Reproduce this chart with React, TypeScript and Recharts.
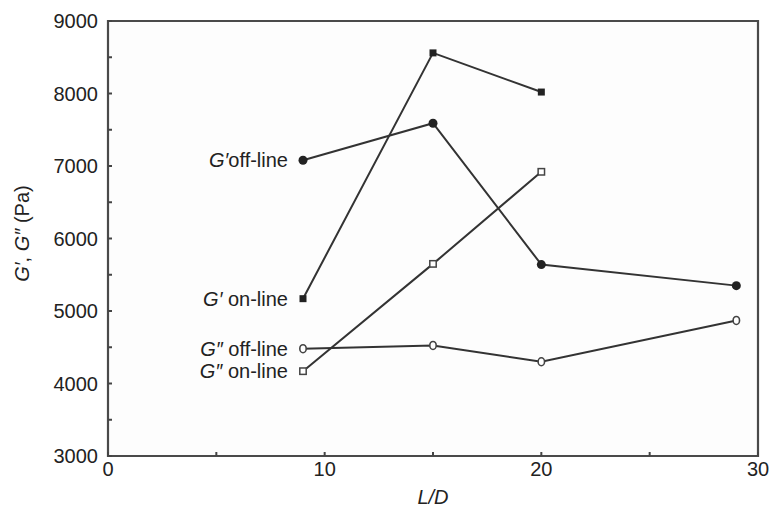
import React from 'react';
import { LineChart, Line, XAxis, YAxis, ReferenceArea } from 'recharts';

const ldValues = [9, 15, 20, 29];
const gPrimeOffline = [7080, 7590, 5640, 5350];
const gPrimeOnline = [5170, 8560, 8020, null];
const gDoubleOffline = [4480, 4525, 4300, 4870];
const gDoubleOnline = [4170, 5650, 6920, null];

const xTicks = [0, 5, 10, 15, 20, 25, 30];
const yTicks = [3000, 3500, 4000, 4500, 5000, 5500, 6000, 6500, 7000, 7500, 8000, 8500, 9000];

const rows = ldValues.map((x, i) => ({
  ld: x,
  gpOff: gPrimeOffline[i],
  gpOn: gPrimeOnline[i],
  gdOff: gDoubleOffline[i],
  gdOn: gDoubleOnline[i],
}));

const FONT = '"Liberation Sans", Arial, Helvetica, sans-serif';
const FS = 20;
const INK = '#222';
const LINE = '#333';

type DotKind = 'fillCircle' | 'fillSquare' | 'openCircle' | 'openSquare';

const makeDot = (kind: DotKind) => (props: any) => {
  const { cx, cy, index } = props;
  if (cx == null || cy == null || Number.isNaN(cy)) return <g key={`e-${kind}-${index}`} />;
  if (kind === 'fillCircle')
    return <circle key={`d-${kind}-${index}`} cx={cx} cy={cy} r={4.5} fill={INK} stroke="none" />;
  if (kind === 'fillSquare')
    return <rect key={`d-${kind}-${index}`} x={cx - 3.5} y={cy - 3.5} width={7} height={7} fill={INK} />;
  if (kind === 'openCircle')
    return <ellipse key={`d-${kind}-${index}`} cx={cx} cy={cy} rx={3.2} ry={4} fill="#fff" stroke="#444" strokeWidth={1.6} />;
  return <rect key={`d-${kind}-${index}`} x={cx - 3.2} y={cy - 3.2} width={6.4} height={6.4} fill="#fff" stroke="#444" strokeWidth={1.5} />;
};

const makeSeriesLabel = (sym: string, rest: string) => (props: any) => {
  const { x, y, index } = props;
  if (index !== 0 || x == null || y == null) return <g key={`l-${sym}-${index}`} />;
  return (
    <text
      key={`l-${sym}-${rest}`}
      x={x - 15}
      y={y + 7}
      textAnchor="end"
      fontFamily={FONT}
      fontSize={FS}
      fill={INK}
    >
      <tspan fontStyle="italic">{sym}</tspan>
      <tspan>{rest}</tspan>
    </text>
  );
};

const YLabel = (props: any) => {
  const vb = props.viewBox || { x: 0, y: 0, width: 0, height: 0 };
  const cx = vb.x + 22;
  const cy = vb.y + vb.height / 2 - 5;
  return (
    <text
      x={cx}
      y={cy}
      transform={`rotate(-90, ${cx}, ${cy})`}
      textAnchor="middle"
      dominantBaseline="central"
      fontFamily={FONT}
      fontSize={FS}
      fill={INK}
    >
      <tspan fontStyle="italic">G′</tspan>
      <tspan>, </tspan>
      <tspan fontStyle="italic">G″</tspan>
      <tspan> (Pa)</tspan>
    </text>
  );
};

const XLabel = (props: any) => {
  const vb = props.viewBox || { x: 0, y: 0, width: 0, height: 0 };
  const cx = vb.x + vb.width / 2;
  return (
    <text x={cx} y={vb.y + 48} textAnchor="middle" fontFamily={FONT} fontSize={FS} fontStyle="italic" fill={INK}>
      L/D
    </text>
  );
};

export default function App() {
  return (
    <div style={{ position: 'absolute', left: 0, top: 0, background: '#fff' }}>
      <LineChart width={772} height={514} data={rows} margin={{ top: 21, right: 14, left: 0, bottom: 0 }}>
        <ReferenceArea
          x1={0}
          x2={30}
          y1={3000}
          y2={9000}
          fill="#fdfdfd"
          fillOpacity={1}
          stroke="#4a4a4a"
          strokeWidth={2.2}
          ifOverflow="visible"
        />
        <XAxis
          dataKey="ld"
          type="number"
          domain={[0, 30]}
          ticks={xTicks}
          allowDataOverflow
          height={58}
          axisLine={false}
          tickLine={{ stroke: '#444', strokeWidth: 2 }}
          tickSize={-4}
          tickMargin={10}
          tick={{ fontFamily: FONT, fontSize: FS, fill: INK }}
          tickFormatter={(v: number) => (v % 10 === 0 ? String(v) : '')}
          label={XLabel}
        />
        <YAxis
          type="number"
          domain={[3000, 9000]}
          ticks={yTicks}
          allowDataOverflow
          width={108}
          axisLine={false}
          tickLine={{ stroke: '#444', strokeWidth: 2 }}
          tickSize={-4}
          tickMargin={14}
          tick={{ fontFamily: FONT, fontSize: FS, fill: INK }}
          tickFormatter={(v: number) => (v % 1000 === 0 ? String(v) : '')}
          label={YLabel}
        />
        <Line
          type="linear"
          dataKey="gpOff"
          stroke={LINE}
          strokeWidth={2}
          dot={makeDot('fillCircle')}
          activeDot={false}
          isAnimationActive={false}
          label={makeSeriesLabel('G′', 'off-line')}
        />
        <Line
          type="linear"
          dataKey="gpOn"
          stroke={LINE}
          strokeWidth={2}
          dot={makeDot('fillSquare')}
          activeDot={false}
          isAnimationActive={false}
          label={makeSeriesLabel('G′', ' on-line')}
        />
        <Line
          type="linear"
          dataKey="gdOff"
          stroke={LINE}
          strokeWidth={2}
          dot={makeDot('openCircle')}
          activeDot={false}
          isAnimationActive={false}
          label={makeSeriesLabel('G″', ' off-line')}
        />
        <Line
          type="linear"
          dataKey="gdOn"
          stroke={LINE}
          strokeWidth={2}
          dot={makeDot('openSquare')}
          activeDot={false}
          isAnimationActive={false}
          label={makeSeriesLabel('G″', ' on-line')}
        />
      </LineChart>
    </div>
  );
}
